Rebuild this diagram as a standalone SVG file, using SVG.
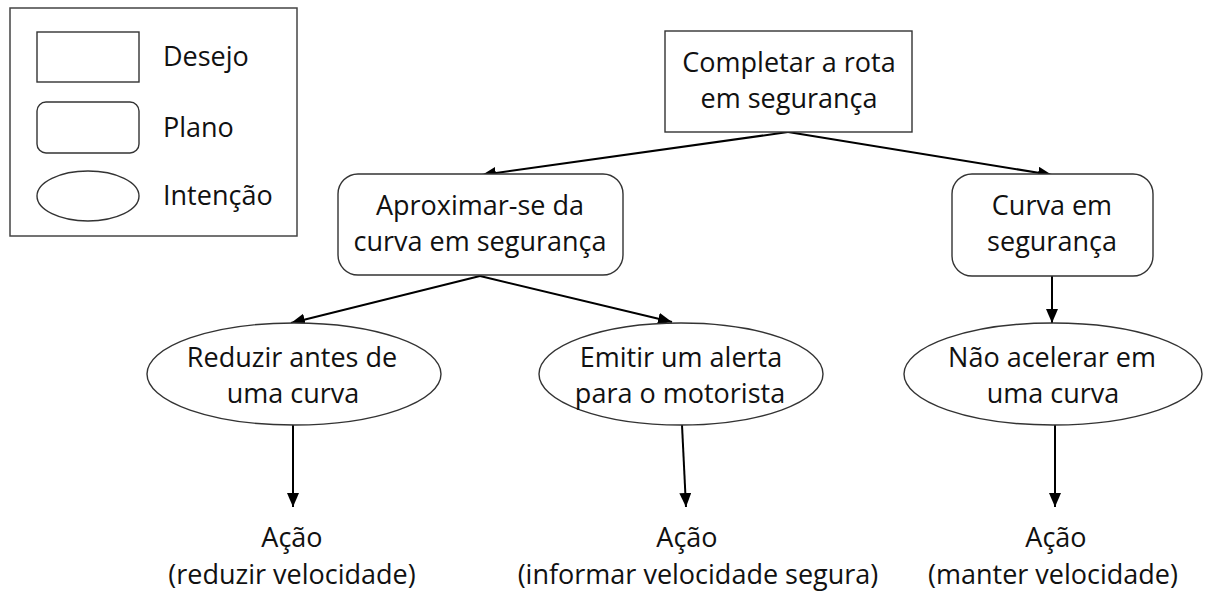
<svg xmlns="http://www.w3.org/2000/svg" width="1205" height="594" viewBox="0 0 1205 594">
<defs>
<style>
text{font-family:"Open Sans","Liberation Sans",sans-serif;font-size:27px;fill:#111;text-anchor:middle}
.lg{text-anchor:start}
.shape{fill:#fff;stroke:#333;stroke-width:1.4}
.conn{stroke:#000;stroke-width:2;fill:none;marker-end:url(#ah)}
</style>
<marker id="ah" markerUnits="userSpaceOnUse" markerWidth="15" markerHeight="13" refX="14" refY="6" orient="auto">
<path d="M0,0 L14,6 L0,12 z" fill="#000"/>
</marker>
</defs>
<rect width="1205" height="594" fill="#fff"/>
<g id="legend">
<rect x="10" y="8" width="287" height="228" fill="#fff" stroke="#444" stroke-width="1.5"/>
<rect class="shape" x="37" y="32" width="102" height="50"/>
<rect class="shape" x="37" y="102" width="102" height="51" rx="9"/>
<ellipse class="shape" cx="88" cy="196" rx="51" ry="25"/>
<text class="lg" x="163" y="66">Desejo</text>
<text class="lg" x="163" y="137">Plano</text>
<text class="lg" x="163" y="205">Intenção</text>
</g>
<g id="connectors">
<line class="conn" x1="788" y1="132" x2="482" y2="175"/>
<line class="conn" x1="788" y1="132" x2="1052" y2="175"/>
<line class="conn" x1="480" y1="276" x2="291" y2="323"/>
<line class="conn" x1="480" y1="276" x2="672" y2="322"/>
<line class="conn" x1="1052" y1="276" x2="1052" y2="323"/>
<line class="conn" x1="293" y1="425" x2="293" y2="507"/>
<line class="conn" x1="682" y1="425" x2="686" y2="507"/>
<line class="conn" x1="1055" y1="425" x2="1055" y2="507"/>
</g>
<g id="desejo">
<rect class="shape" x="665" y="31" width="247" height="101"/>
<text x="789" y="72">Completar a rota</text>
<text x="789" y="108">em segurança</text>
</g>
<g id="plano-aproximar">
<rect class="shape" x="338" y="174" width="285" height="101" rx="20"/>
<text x="480" y="215">Aproximar-se da</text>
<text x="480" y="251">curva em segurança</text>
</g>
<g id="plano-curva">
<rect class="shape" x="952" y="174" width="201" height="102" rx="20"/>
<text x="1052" y="215">Curva em</text>
<text x="1052" y="251">segurança</text>
</g>
<g id="intencao-reduzir">
<ellipse class="shape" cx="294" cy="374" rx="147" ry="51"/>
<text x="292" y="367">Reduzir antes de</text>
<text x="293" y="403">uma curva</text>
</g>
<g id="intencao-alerta">
<ellipse class="shape" cx="681" cy="374" rx="142" ry="51"/>
<text x="681" y="367">Emitir um alerta</text>
<text x="680" y="403">para o motorista</text>
</g>
<g id="intencao-acelerar">
<ellipse class="shape" cx="1053" cy="374" rx="149" ry="51"/>
<text x="1052" y="367">Não acelerar em</text>
<text x="1053" y="403">uma curva</text>
</g>
<g id="acao-reduzir">
<text x="292" y="547">Ação</text>
<text x="292" y="584">(reduzir velocidade)</text>
</g>
<g id="acao-informar">
<text x="687" y="547">Ação</text>
<text x="698" y="584">(informar velocidade segura)</text>
</g>
<g id="acao-manter">
<text x="1056" y="547">Ação</text>
<text x="1053" y="584">(manter velocidade)</text>
</g>
</svg>
